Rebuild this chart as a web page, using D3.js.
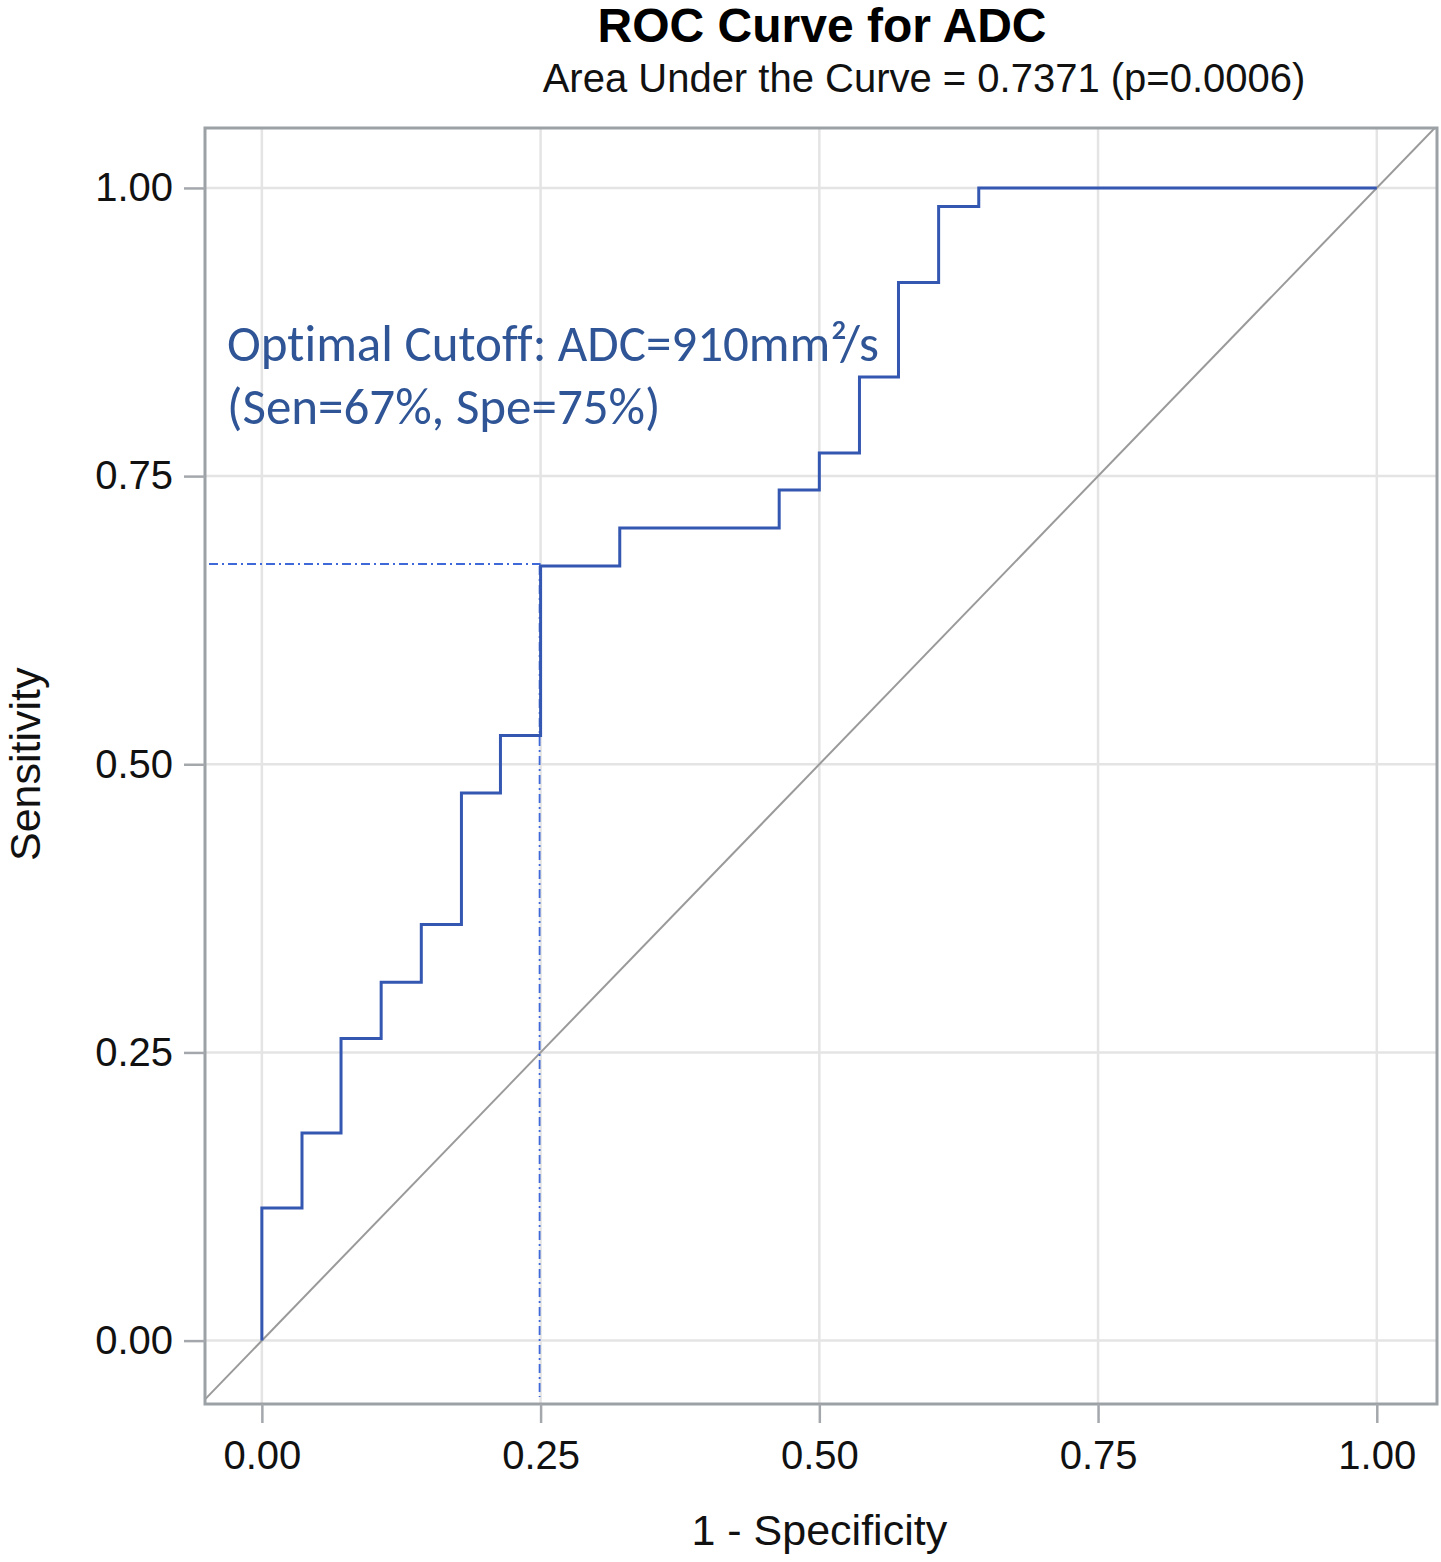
<!DOCTYPE html>
<html>
<head>
<meta charset="utf-8">
<script src="https://cdn.jsdelivr.net/npm/d3@7"></script>
<style>
  body { margin: 0; background: #fff; }
  svg { display: block; }
  .note { font-variant-ligatures: none; }
</style>
</head>
<body>
<div class="canvas"></div>
<script>
// roc points (1 - specificity, sensitivity)
const fpr = [0, 0, 0.036, 0.071, 0.107, 0.143, 0.179, 0.214, 0.25, 0.321, 0.464, 0.5, 0.536, 0.571, 0.607, 0.643, 1.0];
const tpr = [0, 0.115, 0.180, 0.262, 0.311, 0.361, 0.475, 0.525, 0.672, 0.705, 0.738, 0.770, 0.836, 0.918, 0.984, 1.0, 1.0];

const ticks = [0, 0.25, 0.5, 0.75, 1];

// optimal cutoff point
const cutoffX = 0.25;
const cutoffY = 0.672;

const titleText = 'ROC Curve for ADC';
const subtitleText = 'Area Under the Curve = 0.7371 (p=0.0006)';
const noteLines = ['Optimal Cutoff: ADC=910mm²/s', '(Sen=67%, Spe=75%)'];

const dims = {
  width: 1441,
  height: 1562,
  left: 205,
  right: 1437,
  top: 128,
  bottom: 1404,
  fontFamily: '"Liberation Sans", Arial, sans-serif',
  noteFont: 'Carlito, Lato, "Noto Sans", sans-serif'
};

const svg = d3
  .select('.canvas')
  .append('svg')
  .attr('width', dims.width)
  .attr('height', dims.height);

// scales
const x = d3.scaleLinear().domain([-0.051, 1.054]).range([dims.left, dims.right]);
const y = d3.scaleLinear().domain([-0.055, 1.052]).range([dims.bottom, dims.top]);

svg.append('clipPath')
  .attr('id', 'plot-clip')
  .append('rect')
  .attr('x', dims.left)
  .attr('y', dims.top)
  .attr('width', dims.right - dims.left)
  .attr('height', dims.bottom - dims.top);

// grid
const grid = svg.append('g');
grid.selectAll('line.vx')
  .data(ticks)
  .enter()
  .append('line')
  .attr('x1', (d) => x(d))
  .attr('x2', (d) => x(d))
  .attr('y1', dims.top)
  .attr('y2', dims.bottom)
  .attr('stroke', '#e4e4e4')
  .attr('stroke-width', 2.5);
grid.selectAll('line.hy')
  .data(ticks)
  .enter()
  .append('line')
  .attr('x1', dims.left)
  .attr('x2', dims.right)
  .attr('y1', (d) => y(d))
  .attr('y2', (d) => y(d))
  .attr('stroke', '#e4e4e4')
  .attr('stroke-width', 2.5);

const plot = svg.append('g').attr('clip-path', 'url(#plot-clip)');

// chance diagonal
plot.append('line')
  .attr('x1', x(-0.1))
  .attr('y1', y(-0.1))
  .attr('x2', x(1.1))
  .attr('y2', y(1.1))
  .attr('stroke', '#9a9a9a')
  .attr('stroke-width', 2);

// cutoff guides
plot.append('line')
  .attr('x1', dims.left + 4)
  .attr('x2', x(cutoffX))
  .attr('y1', y(cutoffY) - 2)
  .attr('y2', y(cutoffY) - 2)
  .attr('stroke', '#3f68d8')
  .attr('stroke-width', 1.8)
  .attr('stroke-dasharray', '9,4,2,4');
plot.append('line')
  .attr('x1', x(cutoffX) - 1)
  .attr('x2', x(cutoffX) - 1)
  .attr('y1', y(cutoffY))
  .attr('y2', dims.bottom - 7)
  .attr('stroke', '#3f68d8')
  .attr('stroke-width', 1.8)
  .attr('stroke-dasharray', '9,4,2,4');

// roc step curve
const rocLine = d3.line()
  .x((d, i) => x(fpr[i]))
  .y((d, i) => y(d))
  .curve(d3.curveStepAfter);

plot.append('path')
  .datum(tpr)
  .attr('d', rocLine)
  .attr('fill', 'none')
  .attr('stroke', '#3457b2')
  .attr('stroke-width', 3);

// frame
svg.append('rect')
  .attr('x', dims.left)
  .attr('y', dims.top)
  .attr('width', dims.right - dims.left)
  .attr('height', dims.bottom - dims.top)
  .attr('fill', 'none')
  .attr('stroke', '#9ca1a6')
  .attr('stroke-width', 3);

// axes
const xAxis = d3.axisBottom(x)
  .tickValues(ticks)
  .tickFormat(d3.format('.2f'))
  .tickSize(19)
  .tickPadding(18);
const yAxis = d3.axisLeft(y)
  .tickValues(ticks)
  .tickFormat(d3.format('.2f'))
  .tickSize(21)
  .tickPadding(11);

const xAxisGroup = svg.append('g')
  .attr('transform', `translate(0, ${dims.bottom})`)
  .call(xAxis);
const yAxisGroup = svg.append('g')
  .attr('transform', `translate(${dims.left}, 0)`)
  .call(yAxis);

[xAxisGroup, yAxisGroup].forEach((g) => {
  g.select('path.domain').attr('stroke', 'none');
  g.selectAll('.tick line').attr('stroke', '#a4a8ac').attr('stroke-width', 2.5);
  g.selectAll('text')
    .attr('fill', '#111')
    .attr('font-family', dims.fontFamily)
    .attr('font-size', 40);
});

// axis labels
svg.append('text')
  .attr('x', x(0.5))
  .attr('y', 1545)
  .attr('text-anchor', 'middle')
  .attr('font-family', dims.fontFamily)
  .attr('font-size', 43)
  .attr('fill', '#111')
  .text('1 - Specificity');

svg.append('text')
  .attr('transform', `translate(40, ${y(0.5)}) rotate(-90)`)
  .attr('text-anchor', 'middle')
  .attr('font-family', dims.fontFamily)
  .attr('font-size', 43)
  .attr('fill', '#111')
  .text('Sensitivity');

// titles
svg.append('text')
  .attr('x', 822)
  .attr('y', 42)
  .attr('text-anchor', 'middle')
  .attr('font-family', dims.fontFamily)
  .attr('font-weight', 'bold')
  .attr('font-size', 48)
  .attr('fill', '#000')
  .text(titleText);

svg.append('text')
  .attr('x', 924)
  .attr('y', 92)
  .attr('text-anchor', 'middle')
  .attr('font-family', dims.fontFamily)
  .attr('font-size', 40)
  .attr('fill', '#111')
  .text(subtitleText);

// annotation
svg.selectAll('text.note')
  .data(noteLines)
  .enter()
  .append('text')
  .attr('class', 'note')
  .attr('x', 227)
  .attr('y', (d, i) => 361 + i * 63)
  .attr('font-family', dims.noteFont)
  .attr('font-size', 51)
  .attr('fill', '#2f5597')
  .text((d) => d);
</script>
</body>
</html>
